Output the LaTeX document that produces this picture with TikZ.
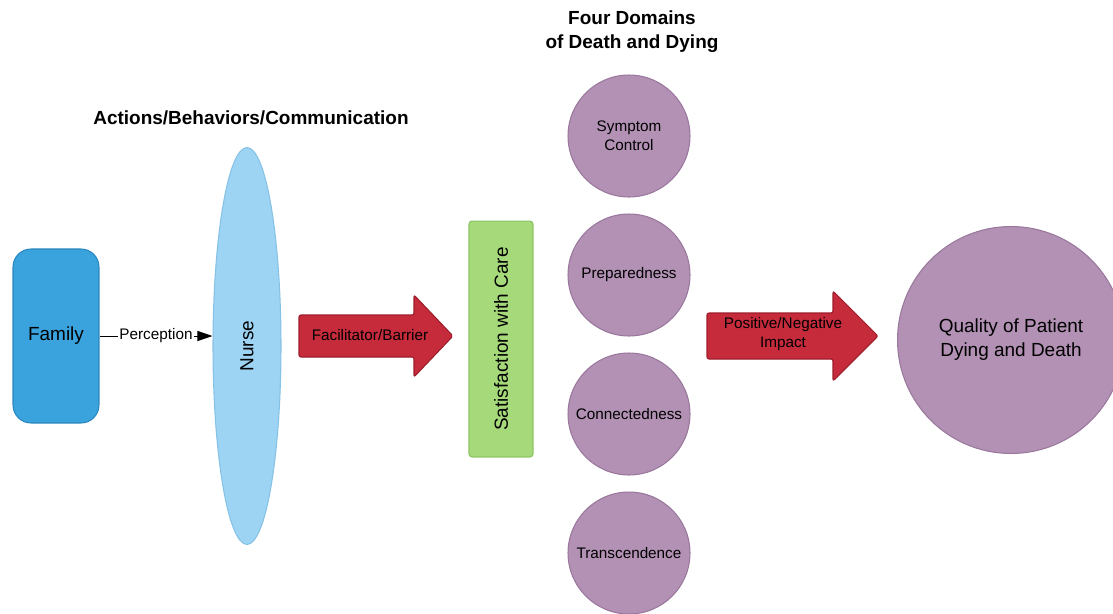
\documentclass[tikz,border=0pt]{standalone}
\usepackage{fontspec}
\setmainfont{Liberation Sans}
\usepackage{tikz}
\usetikzlibrary{calc,arrows.meta,shapes.geometric}
\definecolor{famblue}{HTML}{3AA3DD}
\definecolor{famedge}{HTML}{2A86BE}
\definecolor{nurseblue}{HTML}{9DD3F3}
\definecolor{nurseedge}{HTML}{86C2E6}
\definecolor{carered}{HTML}{C62B3B}
\definecolor{careedge}{HTML}{9C1D2A}
\definecolor{caregreen}{HTML}{A6D97A}
\definecolor{greenedge}{HTML}{8CC463}
\definecolor{domain}{HTML}{B291B4}
\definecolor{domainedge}{HTML}{9A789D}
\def\smalltext{\fontsize{8.7}{10.6}\selectfont}
\def\bigtext{\fontsize{10.8}{13.6}\selectfont}
\def\domnode{\node[circle,draw=domainedge,fill=domain,minimum size=2.44cm,inner sep=0pt,align=center,font=\smalltext]}

\begin{document}
\begin{tikzpicture}[x=0.02cm,y=-0.02cm,line width=0.6pt,
  heading/.style={font=\bfseries\bigtext,align=center},
  bigarrow/.style={draw=careedge,fill=carered,rounded corners=0.04cm}]
\useasboundingbox (0,0) rectangle (1113,613);

% -------- left part: family, nurse ---------
\node[heading] (acts) at (251,118) {Actions/Behaviors/Communication};
\node[draw=famedge,fill=famblue,rounded corners=0.36cm,minimum width=1.72cm,minimum height=3.48cm,inner sep=0pt,font=\bigtext] (family) at (56,336) {Family};
\node[ellipse,draw=nurseedge,fill=nurseblue,rotate=90,minimum width=7.94cm,minimum height=1.36cm,inner sep=0pt,font=\bigtext] (nurse) at (247,346) {Nurse};
\draw[line width=0.5pt,-{Triangle[length=0.3cm,width=0.2cm]}] (family.east) -- node[fill=white,inner sep=1pt,font=\smalltext] (perc) {Perception} (family.east -| nurse.north);

% -------- first arrow and satisfaction box ---------
\coordinate (a1) at (299,336); % tail of the facilitator arrow
\draw[bigarrow] (a1) ++(0,-21) -- ++(115,0) -- ++(0,-20) -- ++(39,41) -- ++(-39,41) -- ++(0,-20) -- ++(-115,0) -- cycle;
\node[font=\smalltext] (fb) at (370,335) {Facilitator/Barrier};
\node[draw=greenedge,fill=caregreen,rounded corners=0.06cm,rotate=90,minimum width=4.72cm,minimum height=1.28cm,inner sep=0pt,font=\bigtext] (sat) at (501,339) {Satisfaction with Care};

% -------- the four domains ---------
\node[heading] (four) at (632,32) {Four Domains\\of Death and Dying};
\domnode (sym) at (629,136) {Symptom\\Control};
\domnode (prep) at (629,275) {Preparedness};
\domnode (conn) at (629,414) {Connectedness};
\domnode (trans) at (629,553) {Transcendence};

% -------- second arrow and outcome ---------
\coordinate (a2) at (707,336); % tail of the impact arrow
\draw[bigarrow] (a2) ++(0,-23) -- ++(126,0) -- ++(0,-22) -- ++(45,45) -- ++(-45,45) -- ++(0,-22) -- ++(-126,0) -- cycle;
\node[font=\smalltext,align=center] (pn) at (783,334) {Positive/Negative\\Impact};
\node[circle,draw=domainedge,fill=domain,minimum size=4.54cm,inner sep=0pt,align=center,font=\bigtext] (qual) at (1011,340) {Quality of Patient\\Dying and Death};
\end{tikzpicture}
\end{document}
